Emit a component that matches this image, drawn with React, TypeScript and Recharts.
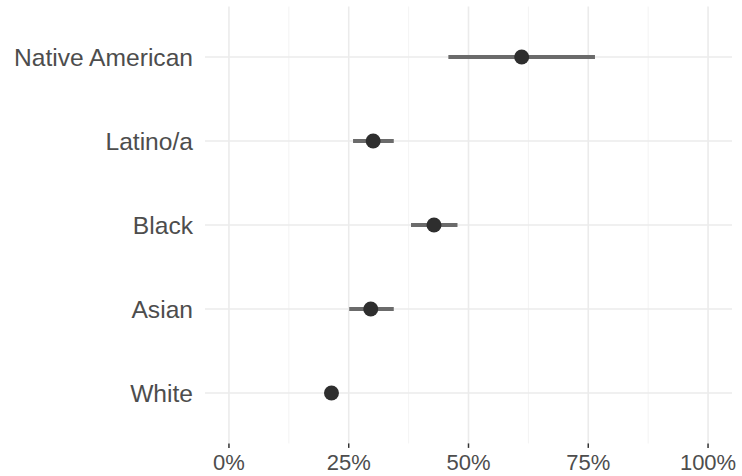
import React from "react";
import { ComposedChart, Bar, Line, XAxis, YAxis, CartesianGrid } from "recharts";

const groups = ["Native American", "Latino/a", "Black", "Asian", "White"];
const estimates = [61.1, 30.1, 42.8, 29.6, 21.4];
const lower = [45.8, 25.9, 38.0, 25.1, 20.4];
const upper = [76.4, 34.4, 47.7, 34.4, 22.4];
const majorTicks = [0, 25, 50, 75, 100];
const minorTicks = [12.5, 37.5, 62.5, 87.5];

const data = groups.map((name, i) => ({
  name,
  value: estimates[i],
  range: [lower[i], upper[i]],
}));

const font = "'Liberation Sans', Arial, sans-serif";
const X_DOMAIN = [-5, 105];
const Y_PAD = 8.4;

// grid positions follow the same domain / padding as the axes
const xLines = (vals: number[]) => ({ offset }: any) =>
  vals.map((v) => offset.left + ((v - X_DOMAIN[0]) / (X_DOMAIN[1] - X_DOMAIN[0])) * offset.width);
const yLines = ({ offset }: any) => {
  const band = (offset.height - 2 * Y_PAD) / groups.length;
  return groups.map((_, i) => offset.top + Y_PAD + band * (i + 0.5));
};

export default function App() {
  return (
    <div style={{ position: "absolute", left: 0, top: 0, background: "#fff" }}>
      <ComposedChart
        width={742}
        height={476}
        data={data}
        layout="vertical"
        margin={{ top: 6.6, right: 10, bottom: 0, left: 0 }}
      >
        <CartesianGrid
          horizontal={false}
          stroke="#f2f2f2"
          strokeWidth={0.9}
          verticalCoordinatesGenerator={xLines(minorTicks)}
        />
        <CartesianGrid
          stroke="#ebebeb"
          strokeWidth={1.6}
          verticalCoordinatesGenerator={xLines(majorTicks)}
          horizontalCoordinatesGenerator={yLines}
        />
        <XAxis
          type="number"
          domain={X_DOMAIN}
          ticks={majorTicks}
          tickFormatter={(v: number) => `${v}%`}
          axisLine={false}
          tickLine={{ stroke: "#333333", strokeWidth: 1.5 }}
          tickSize={4.5}
          tickMargin={6.5}
          height={32.6}
          tick={{ fontSize: 22, fill: "#4d4d4d", fontFamily: font }}
          interval={0}
        />
        <YAxis
          type="category"
          dataKey="name"
          width={205}
          axisLine={false}
          tickLine={false}
          tickSize={0}
          tickMargin={12}
          padding={{ top: Y_PAD, bottom: Y_PAD }}
          tick={{ fontSize: 24.6, fill: "#4d4d4d", fontFamily: font }}
          interval={0}
        />
        <Bar dataKey="range" barSize={4} fill="#6b6b6b" isAnimationActive={false} />
        <Line
          dataKey="value"
          stroke="none"
          dot={{ r: 7.5, fill: "#2e2e2e", stroke: "none" }}
          activeDot={false}
          isAnimationActive={false}
        />
      </ComposedChart>
    </div>
  );
}
